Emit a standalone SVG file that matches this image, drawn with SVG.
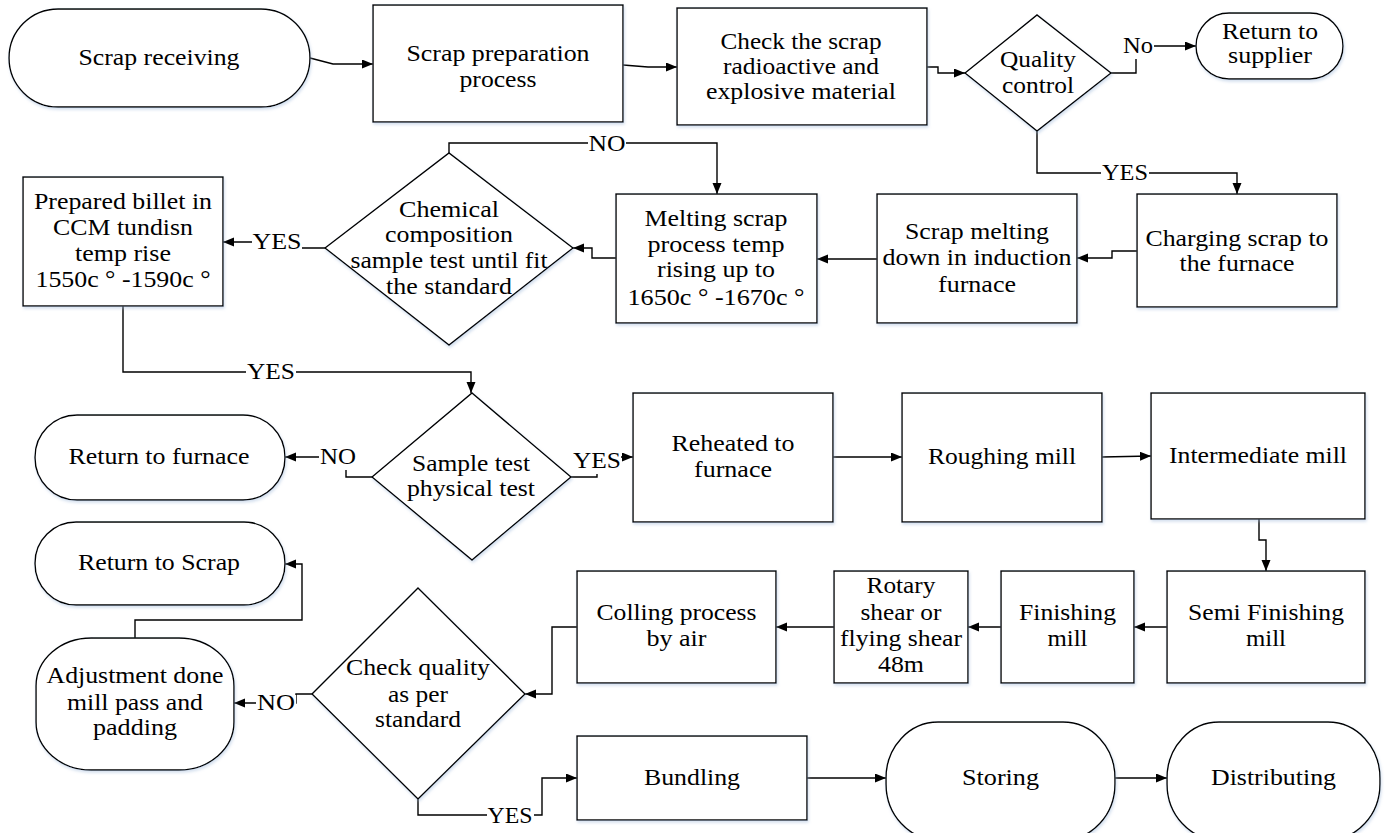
<svg xmlns="http://www.w3.org/2000/svg" width="1387" height="833" viewBox="0 0 1387 833">
<style>
.s{fill:#fff;stroke:#000;stroke-width:1.4;filter:url(#sh)}
.t{font-family:"Liberation Serif","Times New Roman",serif;font-size:23px;fill:#000;text-anchor:middle}
.c{fill:none;stroke:#000;stroke-width:1.4}
.a{marker-end:url(#ah)}
.lb{fill:#fff;stroke:none}
</style>
<defs>
<marker id="ah" markerUnits="userSpaceOnUse" markerWidth="12" markerHeight="10" refX="11" refY="4.5" orient="auto">
<path d="M0,0 L11,4.5 L0,9 z" fill="#000"/>
</marker>
<filter id="sh" x="-10%" y="-10%" width="125%" height="130%">
<feDropShadow dx="1" dy="2" stdDeviation="1.5" flood-color="#9db7d9" flood-opacity="0.45"/>
</filter>
</defs>
<rect width="1387" height="833" fill="#fff"/>

<g id="connectors">
<path class="c a" d="M310,58 L333,64 L373,64"/>
<path class="c a" d="M623,65 L648,67 L677,67"/>
<path class="c a" d="M927,67 L938,67 L938,73 L965,73"/>
<path class="c a" d="M1111,73 L1136,73 L1136,46 L1196,46"/>
<path class="c a" d="M1037,131 L1037,173 L1237,173 L1237,194"/>
<path class="c a" d="M1137,251 L1112,251 L1112,258 L1077,258"/>
<path class="c a" d="M877,259 L817,259"/>
<path class="c a" d="M616,258 L592,258 L592,248 L573,248"/>
<path class="c a" d="M449,153 L449,143 L717,143 L717,194"/>
<path class="c a" d="M325,248 L300,248 L300,242 L223,242"/>
<path class="c a" d="M123,306 L123,372 L471,372 L471,393"/>
<path class="c a" d="M372,477 L346,477 L346,457 L285,457"/>
<path class="c a" d="M571,477 L597,477 L597,457 L633,457"/>
<path class="c a" d="M833,457 L902,457"/>
<path class="c a" d="M1102,457 L1151,456"/>
<path class="c a" d="M1259,519 L1259,540 L1266,540 L1266,571"/>
<path class="c a" d="M1167,627 L1134,627"/>
<path class="c a" d="M1001,627 L968,627"/>
<path class="c a" d="M834,627 L776,627"/>
<path class="c a" d="M577,627 L552,627 L552,694 L525,694"/>
<path class="c a" d="M312,694 L296,694 L296,703 L234,703"/>
<path class="c a" d="M135,638 L135,620 L302,620 L302,564 L285,564"/>
<path class="c a" d="M418,799 L418,815 L542,815 L542,778 L577,778"/>
<path class="c a" d="M807,778 L886,778"/>
<path class="c a" d="M1115,778 L1167,778"/>
<rect class="lb" x="1121" y="35" width="33" height="24"/>
<text class="t" x="1138" y="53" textLength="30" lengthAdjust="spacingAndGlyphs">No</text>
<rect class="lb" x="1101" y="163" width="48" height="20"/>
<text class="t" x="1125" y="180" textLength="46" lengthAdjust="spacingAndGlyphs">YES</text>
<rect class="lb" x="588" y="133" width="38" height="20"/>
<text class="t" x="607" y="151" textLength="37" lengthAdjust="spacingAndGlyphs">NO</text>
<rect class="lb" x="252" y="231" width="50" height="21"/>
<text class="t" x="277" y="249" textLength="49" lengthAdjust="spacingAndGlyphs">YES</text>
<rect class="lb" x="246" y="362" width="50" height="20"/>
<text class="t" x="271" y="379" textLength="48" lengthAdjust="spacingAndGlyphs">YES</text>
<rect class="lb" x="319" y="447" width="38" height="23"/>
<text class="t" x="338" y="464" textLength="36" lengthAdjust="spacingAndGlyphs">NO</text>
<rect class="lb" x="573" y="451" width="48" height="23"/>
<text class="t" x="597" y="468" textLength="48" lengthAdjust="spacingAndGlyphs">YES</text>
<rect class="lb" x="256" y="695" width="40" height="19"/>
<text class="t" x="276" y="710" textLength="38" lengthAdjust="spacingAndGlyphs">NO</text>
<rect class="lb" x="487" y="805" width="47" height="20"/>
<text class="t" x="510" y="823" textLength="45" lengthAdjust="spacingAndGlyphs">YES</text>
</g>

<g id="scrap-receiving">
<rect class="s" x="9" y="9" width="301" height="98" rx="49"/>
<text class="t" x="159" y="65" textLength="161" lengthAdjust="spacingAndGlyphs">Scrap receiving</text>
</g>
<g id="scrap-preparation">
<rect class="s" x="373" y="5" width="250" height="117"/>
<text class="t" x="498" y="61" textLength="183" lengthAdjust="spacingAndGlyphs">Scrap preparation</text>
<text class="t" x="498" y="87" textLength="77" lengthAdjust="spacingAndGlyphs">process</text>
</g>
<g id="check-scrap">
<rect class="s" x="677" y="8" width="250" height="117"/>
<text class="t" x="801" y="49" textLength="161" lengthAdjust="spacingAndGlyphs">Check the scrap</text>
<text class="t" x="801" y="74" textLength="156" lengthAdjust="spacingAndGlyphs">radioactive and</text>
<text class="t" x="801" y="99" textLength="190" lengthAdjust="spacingAndGlyphs">explosive material</text>
</g>
<g id="quality-control">
<polygon class="s" points="965,73 1037,15 1111,73 1037,131"/>
<text class="t" x="1038" y="67" textLength="76" lengthAdjust="spacingAndGlyphs">Quality</text>
<text class="t" x="1038" y="93" textLength="72" lengthAdjust="spacingAndGlyphs">control</text>
</g>
<g id="return-supplier">
<rect class="s" x="1196" y="13" width="147" height="66" rx="33"/>
<text class="t" x="1270" y="39" textLength="96" lengthAdjust="spacingAndGlyphs">Return to</text>
<text class="t" x="1270" y="63" textLength="84" lengthAdjust="spacingAndGlyphs">supplier</text>
</g>
<g id="charging">
<rect class="s" x="1137" y="194" width="200" height="113"/>
<text class="t" x="1237" y="246" textLength="183" lengthAdjust="spacingAndGlyphs">Charging scrap to</text>
<text class="t" x="1237" y="271" textLength="115" lengthAdjust="spacingAndGlyphs">the furnace</text>
</g>
<g id="scrap-melting">
<rect class="s" x="877" y="194" width="200" height="129"/>
<text class="t" x="977" y="239" textLength="144" lengthAdjust="spacingAndGlyphs">Scrap melting</text>
<text class="t" x="977" y="265" textLength="189" lengthAdjust="spacingAndGlyphs">down in induction</text>
<text class="t" x="977" y="292" textLength="78" lengthAdjust="spacingAndGlyphs">furnace</text>
</g>
<g id="melting-scrap">
<rect class="s" x="616" y="194" width="201" height="129"/>
<text class="t" x="716" y="226" textLength="143" lengthAdjust="spacingAndGlyphs">Melting scrap</text>
<text class="t" x="716" y="252" textLength="137" lengthAdjust="spacingAndGlyphs">process temp</text>
<text class="t" x="716" y="277" textLength="118" lengthAdjust="spacingAndGlyphs">rising up to</text>
<text class="t" x="716" y="305" textLength="177" lengthAdjust="spacingAndGlyphs">1650c ° -1670c °</text>
</g>
<g id="chemical">
<polygon class="s" points="325,248 449,153 573,248 449,345"/>
<text class="t" x="449" y="217" textLength="100" lengthAdjust="spacingAndGlyphs">Chemical</text>
<text class="t" x="449" y="242" textLength="128" lengthAdjust="spacingAndGlyphs">composition</text>
<text class="t" x="449" y="268" textLength="197" lengthAdjust="spacingAndGlyphs">sample test until fit</text>
<text class="t" x="449" y="294" textLength="126" lengthAdjust="spacingAndGlyphs">the standard</text>
</g>
<g id="prepared-billet">
<rect class="s" x="23" y="177" width="200" height="129"/>
<text class="t" x="123" y="209" textLength="178" lengthAdjust="spacingAndGlyphs">Prepared billet in</text>
<text class="t" x="123" y="235" textLength="140" lengthAdjust="spacingAndGlyphs">CCM tundisn</text>
<text class="t" x="123" y="261" textLength="96" lengthAdjust="spacingAndGlyphs">temp rise</text>
<text class="t" x="123" y="287" textLength="175" lengthAdjust="spacingAndGlyphs">1550c ° -1590c °</text>
</g>
<g id="return-furnace">
<rect class="s" x="35" y="415" width="250" height="85" rx="42"/>
<text class="t" x="159" y="464" textLength="181" lengthAdjust="spacingAndGlyphs">Return to furnace</text>
</g>
<g id="sample-test">
<polygon class="s" points="372,477 472,393 571,477 472,560"/>
<text class="t" x="471" y="471" textLength="118" lengthAdjust="spacingAndGlyphs">Sample test</text>
<text class="t" x="471" y="496" textLength="128" lengthAdjust="spacingAndGlyphs">physical test</text>
</g>
<g id="reheated">
<rect class="s" x="633" y="393" width="200" height="129"/>
<text class="t" x="733" y="451" textLength="123" lengthAdjust="spacingAndGlyphs">Reheated to</text>
<text class="t" x="733" y="477" textLength="78" lengthAdjust="spacingAndGlyphs">furnace</text>
</g>
<g id="roughing">
<rect class="s" x="902" y="393" width="200" height="129"/>
<text class="t" x="1002" y="464" textLength="148" lengthAdjust="spacingAndGlyphs">Roughing mill</text>
</g>
<g id="intermediate">
<rect class="s" x="1151" y="393" width="214" height="126"/>
<text class="t" x="1258" y="463" textLength="178" lengthAdjust="spacingAndGlyphs">Intermediate mill</text>
</g>
<g id="return-scrap">
<rect class="s" x="35" y="522" width="250" height="83" rx="41"/>
<text class="t" x="159" y="570" textLength="162" lengthAdjust="spacingAndGlyphs">Return to Scrap</text>
</g>
<g id="adjustment">
<rect class="s" x="36" y="638" width="198" height="132" rx="55" ry="48"/>
<text class="t" x="135" y="683" textLength="177" lengthAdjust="spacingAndGlyphs">Adjustment done</text>
<text class="t" x="135" y="710" textLength="136" lengthAdjust="spacingAndGlyphs">mill pass and</text>
<text class="t" x="135" y="735" textLength="84" lengthAdjust="spacingAndGlyphs">padding</text>
</g>
<g id="check-quality">
<polygon class="s" points="312,694 418,588 525,694 418,799"/>
<text class="t" x="418" y="675" textLength="144" lengthAdjust="spacingAndGlyphs">Check quality</text>
<text class="t" x="418" y="702" textLength="60" lengthAdjust="spacingAndGlyphs">as per</text>
<text class="t" x="418" y="727" textLength="86" lengthAdjust="spacingAndGlyphs">standard</text>
</g>
<g id="colling">
<rect class="s" x="577" y="571" width="199" height="112"/>
<text class="t" x="676.5" y="620" textLength="160" lengthAdjust="spacingAndGlyphs">Colling process</text>
<text class="t" x="676.5" y="646" textLength="60" lengthAdjust="spacingAndGlyphs">by air</text>
</g>
<g id="rotary">
<rect class="s" x="834" y="571" width="134" height="112"/>
<text class="t" x="901" y="593" textLength="69" lengthAdjust="spacingAndGlyphs">Rotary</text>
<text class="t" x="901" y="620" textLength="81" lengthAdjust="spacingAndGlyphs">shear or</text>
<text class="t" x="901" y="646" textLength="122" lengthAdjust="spacingAndGlyphs">flying shear</text>
<text class="t" x="901" y="672" textLength="46" lengthAdjust="spacingAndGlyphs">48m</text>
</g>
<g id="finishing">
<rect class="s" x="1001" y="571" width="133" height="112"/>
<text class="t" x="1067.5" y="620" textLength="97" lengthAdjust="spacingAndGlyphs">Finishing</text>
<text class="t" x="1067.5" y="646" textLength="40" lengthAdjust="spacingAndGlyphs">mill</text>
</g>
<g id="semi-finishing">
<rect class="s" x="1167" y="571" width="198" height="112"/>
<text class="t" x="1266" y="620" textLength="156" lengthAdjust="spacingAndGlyphs">Semi Finishing</text>
<text class="t" x="1266" y="646" textLength="40" lengthAdjust="spacingAndGlyphs">mill</text>
</g>
<g id="bundling">
<rect class="s" x="577" y="736" width="230" height="84"/>
<text class="t" x="692" y="785" textLength="96" lengthAdjust="spacingAndGlyphs">Bundling</text>
</g>
<g id="storing">
<rect class="s" x="886" y="722" width="229" height="118" rx="52" ry="56"/>
<text class="t" x="1000.5" y="785" textLength="77" lengthAdjust="spacingAndGlyphs">Storing</text>
</g>
<g id="distributing">
<rect class="s" x="1167" y="722" width="213" height="118" rx="52" ry="56"/>
<text class="t" x="1273.5" y="785" textLength="125" lengthAdjust="spacingAndGlyphs">Distributing</text>
</g>
</svg>
